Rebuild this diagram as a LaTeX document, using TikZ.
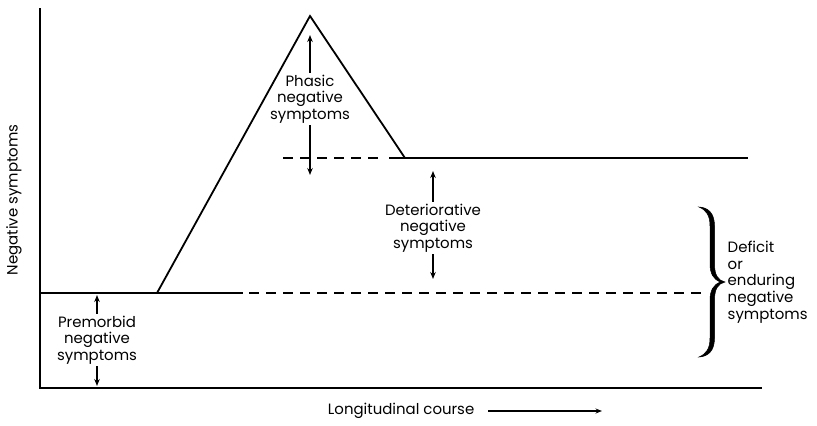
\documentclass[tikz,border=0pt]{standalone}
\usepackage{fontspec}
\setmainfont{Poppins}
\usetikzlibrary{arrows.meta}
\begin{document}
\begin{tikzpicture}[x=1bp,y=-1bp,
  curve/.style={line width=1.8bp,line join=miter},
  dash line/.style={line width=1.8bp,dash pattern=on 10bp off 7bp},
  lbl/.style={font=\fontsize{15}{16.8}\selectfont,align=center,inner sep=1.5bp},
  arr/.style={line width=1.4bp,-{Stealth[length=7bp,width=5.5bp]}},
  bracefill/.style={fill=black,draw=black,line width=0.5bp}]
\useasboundingbox (0,0) rectangle (817,425);
% axes
\coordinate (ytop) at (40,8);
\coordinate (orig) at (40,388);
\coordinate (xend) at (762,388);
\draw[line width=2.2bp] (ytop) -- (orig) -- (xend);
% baseline and triangle
\coordinate (b0) at (40,293);
\coordinate (b1) at (157,293);
\coordinate (b2) at (243,293);
\coordinate (peak) at (310,16);
\coordinate (foot) at (405,158);
\coordinate (p0) at (389,158);
\coordinate (p1) at (748,158);
\draw[curve] (b0) -- (b2);
\draw[curve] (b1) -- (peak) -- (foot);
\draw[curve] (p0) -- (p1);
% dashed lines
\coordinate (d0) at (283,158);
\coordinate (d1) at (380,158);
\draw[dash line] (d0) -- (d1);
\coordinate (e0) at (249,293);
\coordinate (e1) at (706,293);
\draw[dash line] (e0) -- (e1);
% phasic
\node[lbl] (phasic) at (310,99) {Phasic\\negative\\symptoms};
\coordinate (phU) at (310,35);
\coordinate (phD) at (310,175);
\draw[arr] (phasic.north) -- (phU);
\draw[arr] (phasic.south) -- (phD);
% deteriorative
\node[lbl] (det) at (433,228) {Deteriorative\\negative\\symptoms};
\coordinate (deU) at (433,171);
\coordinate (deD) at (433,279);
\draw[arr] (det.north) -- (deU);
\draw[arr] (det.south) -- (deD);
% premorbid
\node[lbl] (pre) at (97,340) {Premorbid\\negative\\symptoms};
\coordinate (prU) at (97,295);
\coordinate (prD) at (97,386);
\draw[arr] (pre.north) -- (prU);
\draw[arr] (pre.south) -- (prD);
% brace
\filldraw[bracefill] (699,207) .. controls (708,207.5) and (714.5,213) .. (714.5,226)
  -- (714.5,264) .. controls (714.5,275) and (718,280.5) .. (725,282)
  .. controls (718,283.5) and (714.5,289) .. (714.5,300)
  -- (714.5,338) .. controls (714.5,351) and (708,356.5) .. (699,357)
  .. controls (706,354) and (710,349) .. (710,338)
  -- (710,300) .. controls (710,290) and (714,284.5) .. (720,282)
  .. controls (714,279.5) and (710,274) .. (710,264)
  -- (710,226) .. controls (710,215) and (706,210) .. (699,207) -- cycle;
\node[lbl,align=left,anchor=west] (deficit) at (726,282) {Deficit\\or\\enduring\\negative\\symptoms};
% axis labels
\node[lbl,rotate=90] (ylab) at (14,200) {Negative symptoms};
\node[lbl,anchor=east] (xlab) at (476,411) {Longitudinal course};
\coordinate (xa0) at (488,411);
\coordinate (xa1) at (602,411);
\draw[line width=1.2bp,-{Stealth[length=6.5bp,width=5bp]}] (xa0) -- (xa1);
\end{tikzpicture}
\end{document}
